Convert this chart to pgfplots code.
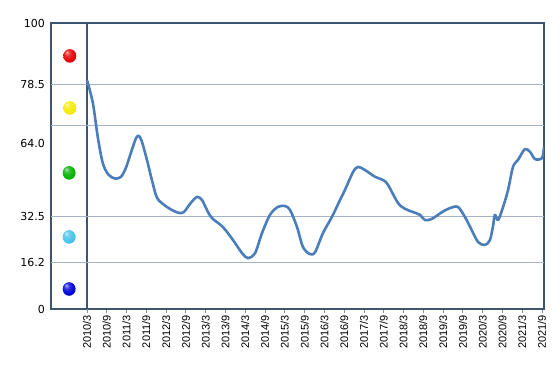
\documentclass[border=0pt]{standalone}
\usepackage{pgfplots}
\pgfplotsset{compat=1.18}
\usepackage{fontspec}
\setmainfont{Liberation Sans}
\newfontfamily\yfont{DejaVu Sans}
\definecolor{frame}{RGB}{62,85,112}
\definecolor{gridc}{RGB}{165,180,200}
\definecolor{linec}{RGB}{74,126,187}
\definecolor{ballred}{RGB}{230,0,0}
\definecolor{ballyellow}{RGB}{245,235,0}
\definecolor{ballgreen}{RGB}{0,180,0}
\definecolor{ballcyan}{RGB}{70,195,235}
\definecolor{ballblue}{RGB}{0,0,220}
\newcommand\mkball[2]{%
  \pgfdeclareradialshading{#1}{\pgfqpoint{-12bp}{14bp}}{color(0bp)=(#2!30!white); color(10bp)=(#2!80!white); color(25bp)=(#2); color(42bp)=(#2!85!black); color(50bp)=(#2!70!black)}%
  \pgfdeclareplotmark{#1}{\pgfpathellipse{\pgfpointorigin}{\pgfqpoint{0.95\pgfplotmarksize}{0pt}}{\pgfqpoint{0pt}{\pgfplotmarksize}}\pgfshadepath{#1}{0}\pgfusepath{discard}}}
\mkball{bR}{ballred}
\mkball{bY}{ballyellow}
\mkball{bG}{ballgreen}
\mkball{bC}{ballcyan}
\mkball{bB}{ballblue}
\begin{document}
\begin{tikzpicture}
\begin{axis}[
  scale only axis, width=493pt, height=286pt,
  xmin=-10.9, xmax=138.6, ymin=0, ymax=100,
  axis line style={frame, line width=1.3pt},
  /pgf/number format/assume math mode=true,
  xtick={0,6,...,138},
  xticklabels={2010/3,2010/9,2011/3,2011/9,2012/3,2012/9,2013/3,2013/9,2014/3,2014/9,2015/3,2015/9,2016/3,2016/9,2017/3,2017/9,2018/3,2018/9,2019/3,2019/9,2020/3,2020/9,2021/3,2021/9},
  x tick label style={rotate=90, anchor=east, font=\fontsize{11}{13}\selectfont, inner sep=2pt},
  xtick pos=left, tick align=outside, major tick length=4pt,
  xtick style={gridc!80!black, line width=0.8pt},
  ytick={0,16.2,32.5,58,78.5,100},
  yticklabels={0,16.2,32.5,64.0,78.5,100},
  ytick style={draw=none},
  y tick label style={font=\yfont\fontsize{11}{13}\selectfont, inner sep=2pt},
  extra y ticks={16.2,32.5,64,78.5},
  extra y tick labels={},
  extra y tick style={grid=major, major grid style={gridc, line width=1pt}, ytick style={draw=none}},
  extra x ticks={0},
  extra x tick labels={},
  extra x tick style={grid=major, major grid style={frame, line width=1.3pt}},
]
\coordinate (sw) at (rel axis cs:0,0);
\addplot[linec, line width=2.6pt, smooth, tension=0.5, line join=round] coordinates {
(0,80.1)(1.8,72.0)(3.3,60.0)(4.8,51.0)(6.5,47.0)(8.5,45.6)(10.3,46.2)
(11.8,49.3)(13.3,54.5)(14.9,59.8)(15.8,60.5)(16.7,58.4)(18.2,52.1)(19.7,45.1)
(21.2,39.0)(23.4,36.4)(25.8,34.6)(27.9,33.6)(29.4,33.9)(31.5,37.1)(33.4,39.2)
(34.9,38.1)(36.4,34.6)(37.9,31.8)(41.2,28.7)(44.3,24.1)(47.0,19.6)(48.8,17.8)
(51.0,19.6)(53.1,26.6)(55.5,32.9)(57.9,35.7)(60.1,36.0)(61.6,34.6)(63.7,28.7)
(65.5,21.7)(67.6,19.2)(69.2,19.9)(71.6,26.6)(74.3,32.2)(76.7,38.0)(78.3,41.8)
(80.7,47.9)(82.2,49.7)(84.3,48.6)(87.4,46.2)(89.8,45.1)(91.3,43.4)(94.3,37.1)
(96.5,35.0)(98.9,33.9)(101.0,32.9)(102.5,31.1)(104.6,31.5)(107.7,33.9)(110.1,35.3)
(112.5,35.7)(114.6,32.2)(116.2,28.7)(118.6,23.4)(120.7,22.4)(122.2,24.1)(123.1,28.7)
(123.7,32.9)(124.7,31.1)(126.2,35.7)(127.7,41.6)(129.2,49.7)(130.7,52.1)(132.8,55.9)
(134.4,54.9)(135.9,52.4)(138.0,52.8)(138.6,56.6)
};
\addplot[only marks, mark=bR, mark size=6.8pt] coordinates {(-5.2,88.5)};
\addplot[only marks, mark=bY, mark size=6.8pt] coordinates {(-5.2,70.3)};
\addplot[only marks, mark=bG, mark size=6.8pt] coordinates {(-5.4,47.6)};
\addplot[only marks, mark=bC, mark size=6.8pt] coordinates {(-5.4,25.2)};
\addplot[only marks, mark=bB, mark size=6.8pt] coordinates {(-5.4,7.0)};
\end{axis}
\path (sw) ++(-51pt,-58pt) rectangle ++(560pt,367pt);
\end{tikzpicture}
\end{document}
